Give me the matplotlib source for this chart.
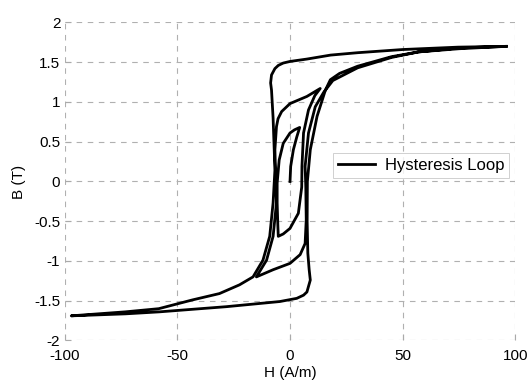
import matplotlib
matplotlib.use("Agg")
import matplotlib.pyplot as plt
import numpy as np

plt.rcParams['font.family'] = ['Liberation Sans', 'DejaVu Sans']
plt.rcParams['axes.unicode_minus'] = False

# branches of the loop (H in A/m, B in T)
h_initial = [0, 0.3, 1.5, 3.0, 4.3]
b_initial = [0.0, 0.19, 0.40, 0.56, 0.68]

h_minor1_down = [4.3, 2.0, 0, -3.0, -4.8, -5.7, -5.7, -5.4, -5.2]
b_minor1_down = [0.68, 0.65, 0.61, 0.48, 0.27, -0.02, -0.27, -0.55, -0.69]

h_minor1_up = [-5.2, -3.0, 0, 3.7, 5.2, 5.3, 6.0, 8.2, 11.0, 13.4]
b_minor1_up = [-0.69, -0.66, -0.59, -0.40, -0.07, 0.19, 0.61, 0.90, 1.08, 1.17]

h_minor2_down = [13.4, 7.5, 0, -3.7, -5.3, -6.0, -6.7, -6.3, -6.0, -7.5, -10.4, -14.9]
b_minor2_down = [1.17, 1.07, 0.98, 0.88, 0.79, 0.69, 0.40, 0.0, -0.27, -0.69, -0.99, -1.20]

h_minor2_up = [-14.9, -7.5, 0, 4.5, 6.7, 7.2, 7.0, 6.7, 8.2, 11.2, 14.9, 19, 30, 45, 57, 75, 96]
b_minor2_up = [-1.20, -1.11, -1.03, -0.92, -0.78, -0.48, -0.07, 0.19, 0.61, 0.94, 1.12, 1.27,
               1.43, 1.56, 1.63, 1.67, 1.70]

h_major_down = [96, 74.6, 50, 30, 18, 7.5, 0, -3.0, -5.2, -6.7, -8.2, -8.6, -8.2, -7.5, -7.0,
                -6.7, -7.5, -9.0, -12.0, -16.4, -22.4, -31.3, -43.3, -58.2, -73.1, -97]
b_major_down = [1.70, 1.69, 1.66, 1.62, 1.59, 1.54, 1.51, 1.49, 1.46, 1.42, 1.34, 1.24, 1.15,
                0.80, 0.40, 0.14, -0.27, -0.69, -0.99, -1.20, -1.30, -1.41, -1.49, -1.60, -1.64,
                -1.69]

h_major_up = [-97, -73, -58, -28.3, -4.5, 3.0, 6.0, 7.5, 9.0, 8.5, 7.9, 7.6, 7.7, 9.0, 12.0,
              15.7, 17.9, 22, 30, 45, 57, 75, 96]
b_major_up = [-1.69, -1.665, -1.64, -1.575, -1.51, -1.47, -1.43, -1.39, -1.24, -1.11, -0.90,
              -0.50, 0.0, 0.40, 0.82, 1.15, 1.28, 1.36, 1.45, 1.57, 1.63, 1.68, 1.70]

h_all = np.concatenate([h_initial, h_minor1_down, h_minor1_up, h_minor2_down,
                        h_minor2_up, h_major_down, h_major_up])
b_all = np.concatenate([b_initial, b_minor1_down, b_minor1_up, b_minor2_down,
                        b_minor2_up, b_major_down, b_major_up])

x_ticks = [-100, -50, 0, 50, 100]
y_ticks = [-2, -1.5, -1, -0.5, 0, 0.5, 1, 1.5, 2]
y_ticklabels = ['-2', '-1.5', '-1', '-0.5', '0', '0.5', '1', '1.5', '2']

fig = plt.figure(figsize=(5.31, 3.8), dpi=100)
ax = fig.add_axes([0.1215, 0.104, 0.8493, 0.8368])

ax.plot(h_all, b_all, color='black', linewidth=2.0, label='Hysteresis Loop')

ax.set_xlim(-100, 100)
ax.set_ylim(-2, 2)
ax.set_xticks(x_ticks)
ax.set_yticks(y_ticks)
ax.set_yticklabels(y_ticklabels)
ax.tick_params(direction='in', length=4, color='#aaaaaa', labelsize=11)
ax.tick_params(axis='y', pad=3)
ax.tick_params(axis='x', pad=6)
for s in ax.spines.values():
    s.set_visible(False)
ax.grid(True, color='#b0b0b0', linestyle=(0, (5, 5)), linewidth=0.8)

ax.set_xlabel('H (A/m)', fontsize=11, labelpad=2)
ax.set_ylabel('B (T)', fontsize=11, labelpad=6)

leg = ax.legend(loc='lower left', bbox_to_anchor=(0.596, 0.51), fontsize=12,
                frameon=True, fancybox=False, handlelength=2.2, handletextpad=0.6,
                borderpad=0.3, borderaxespad=0)
leg.get_frame().set_edgecolor('#bbbbbb')
leg.get_frame().set_linewidth(0.6)

plt.savefig('out.png', dpi=100)
